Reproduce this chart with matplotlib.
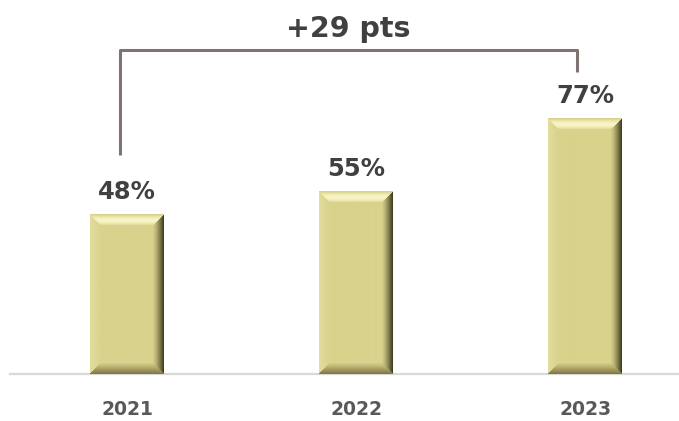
#!/usr/bin/env python3
# -*- coding: utf-8 -*-
"""
Bevelled bar chart of yearly share with a bracket showing the gain.
"""

import numpy as np
import matplotlib
matplotlib.use('Agg')
import matplotlib.pyplot as plt

years = ['2021', '2022', '2023']
values = [48, 55, 77]

BAR_COLOR = (216, 210, 140)
FONT = 'DejaVu Sans'


def bevel_texture(w, h, b=11):
    """
    Builds an RGB array that shades a bar like a raised bevelled button
    """
    base = np.array(BAR_COLOR, dtype=float)
    light = np.array([248, 244, 196], dtype=float)
    side = np.array([232, 227, 168], dtype=float)
    dark = np.array([66, 62, 32], dtype=float)
    bottom = np.array([120, 112, 60], dtype=float)
    img = np.zeros((h, w, 3))
    for i in range(h):
        for j in range(w):
            d = {'t': i, 'b': h - 1 - i, 'l': j, 'r': w - 1 - j}
            edge = min(d, key=d.get)
            dist = d[edge]
            if dist >= b:
                img[i, j] = base
                continue
            t = 1 - dist / b
            if edge == 't':
                c = base + (light - base) * np.sin(np.pi * min(t * 1.05, 1.0)) ** 0.8
            elif edge == 'l':
                c = base + (side - base) * 0.6 * t
            elif edge == 'r':
                c = base + (dark - base) * t ** 1.4
            else:
                c = base + (bottom - base) * 0.9 * t ** 1.1
            img[i, j] = c
    return np.clip(img, 0, 255) / 255.0


def main():
    fig = plt.figure(figsize=(6.79, 4.21), dpi=100)
    ax = fig.add_axes([10 / 679, 47 / 421, 669 / 679, 374 / 421])
    ax.set_xlim(-0.511, 2.41)
    ax.set_ylim(0, 112.6)
    ax.axis('off')

    x = np.arange(len(years))
    bars = ax.bar(x, values, width=0.32, color='none', edgecolor='none')
    fig.canvas.draw()
    for rect in bars:
        x0, y0 = rect.get_x(), rect.get_y()
        x1, y1 = x0 + rect.get_width(), y0 + rect.get_height()
        (px0, py0), (px1, py1) = ax.transData.transform([(x0, y0), (x1, y1)])
        tex = bevel_texture(int(round(px1 - px0)), int(round(py1 - py0)))
        ax.imshow(tex, extent=(x0, x1, y0, y1), aspect='auto',
                  interpolation='bilinear', zorder=2)
    ax.set_xlim(-0.511, 2.41)
    ax.set_ylim(0, 112.6)

    # baseline
    ax.axhline(0, color='#d9d9d9', linewidth=1.6, zorder=1, clip_on=False)

    for xi, v in zip(x, values):
        ax.annotate('%d%%' % v, (xi, v), xytext=(0, 11),
                    textcoords='offset points', ha='center', va='baseline',
                    fontsize=17.5, fontweight='bold', family=FONT,
                    color='#404040')
        ax.text(xi, -12.35, years[xi], ha='center', va='baseline',
                fontsize=13.5, fontweight='bold', family=FONT,
                color='#595959')

    # bracket from first to last year
    top = max(values) + 20.6
    left_x, right_x = x[0] - 0.03, x[-1] - 0.035
    ax.plot([left_x, left_x, right_x, right_x],
            [values[0] + 18, top, top, values[-1] + 14],
            color='#7f7471', linewidth=2.2, solid_capstyle='butt', zorder=3)
    ax.text((left_x + right_x) / 2, top + 4, '+%d pts' % (values[-1] - values[0]),
            ha='center', va='baseline', fontsize=20.5, fontweight='bold',
            family=FONT, color='#404040')

    fig.savefig('out.png', dpi=100)
    plt.close(fig)


if __name__ == '__main__':
    main()
